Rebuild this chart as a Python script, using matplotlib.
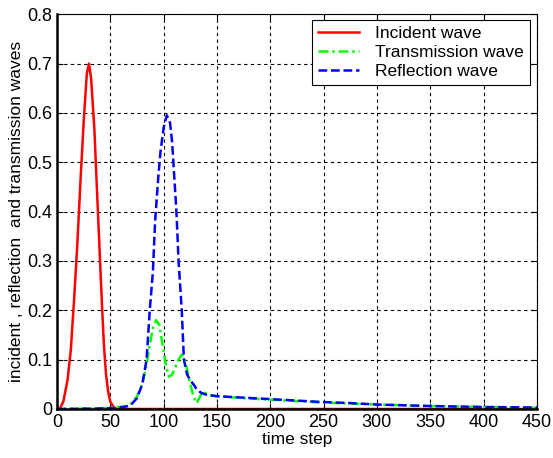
import matplotlib.pyplot as plt

plt.rcParams['font.family'] = ['Liberation Sans', 'DejaVu Sans']

# incident wave
t_inc = [0, 3, 6, 10, 13, 16, 19, 22, 25, 28, 30, 32, 35, 38, 40, 42, 44, 46, 48, 50, 53, 56, 60, 450]
v_inc = [0, 0.002, 0.015, 0.06, 0.12, 0.22, 0.33, 0.46, 0.58, 0.68, 0.70, 0.67, 0.57, 0.42, 0.32,
         0.22, 0.13, 0.07, 0.035, 0.015, 0.004, 0.0, 0.0, 0.0]

# transmission wave
t_tra = [0, 40, 55, 65, 70, 75, 80, 84, 87, 90, 93, 96, 99, 102, 105, 108, 111, 114, 117, 119,
         122, 125, 128, 131, 134, 137, 141, 145, 150, 175, 200, 225, 250, 275, 300, 350, 400, 450]
v_tra = [0, 0.001, 0.003, 0.006, 0.012, 0.025, 0.05, 0.09, 0.13, 0.165, 0.18, 0.17, 0.13, 0.09,
         0.065, 0.07, 0.085, 0.1, 0.11, 0.108, 0.08, 0.05, 0.025, 0.012, 0.025, 0.035, 0.03,
         0.027, 0.026, 0.022, 0.019, 0.016, 0.013, 0.011, 0.009, 0.006, 0.004, 0.002]

# reflection wave
t_ref = [0, 40, 55, 65, 70, 75, 80, 84, 87, 90, 92, 95, 97, 100, 103, 106, 108, 110, 112, 114,
         117, 119, 122, 125, 128, 131, 135, 140, 150, 175, 200, 225, 250, 275, 300, 350, 400, 450]
v_ref = [0, 0.001, 0.002, 0.005, 0.01, 0.022, 0.05, 0.1, 0.2, 0.28, 0.38, 0.47, 0.52, 0.57, 0.595,
         0.58, 0.54, 0.47, 0.4, 0.3, 0.2, 0.1, 0.07, 0.058, 0.05, 0.04, 0.033, 0.029, 0.026, 0.023,
         0.02, 0.017, 0.014, 0.012, 0.009, 0.006, 0.004, 0.003]

fig = plt.figure(figsize=(5.53, 4.58), dpi=100)
ax = fig.add_axes([0.103, 0.107, 0.868, 0.862])

ax.plot(t_inc, v_inc, color='red', lw=1.8, linestyle='-', label='Incident wave')
ax.plot(t_tra, v_tra, color='#00ff00', lw=1.8, linestyle=(0, (4, 1.5, 1, 1.5)), label='Transmission wave')
ax.plot(t_ref, v_ref, color='blue', lw=1.8, linestyle=(0, (3.5, 1.5)), label='Reflection wave')

ax.set_xlim(0, 450)
ax.set_ylim(0, 0.8)
ax.set_xticks(range(0, 451, 50))
ax.set_yticks([0, 0.1, 0.2, 0.3, 0.4, 0.5, 0.6, 0.7, 0.8])
ax.set_yticklabels(['0', '0.1', '0.2', '0.3', '0.4', '0.5', '0.6', '0.7', '0.8'])
ax.grid(True, color='black', linestyle=(0, (3, 3)), lw=0.8)
ax.tick_params(direction='in', top=True, right=True, labelsize=13, length=4)
for s in ax.spines.values():
    s.set_linewidth(0.8)
ax.spines['left'].set_linewidth(1.8)
ax.spines['bottom'].set_linewidth(1.8)

ax.set_xlabel('time step', fontsize=12.5, labelpad=1)
ax.set_ylabel('incident , reflection  and transmission waves', fontsize=12.5, labelpad=2)

leg = ax.legend(loc='upper right', bbox_to_anchor=(0.985, 0.985), fontsize=12.5, fancybox=False,
                edgecolor='black', framealpha=1, handlelength=2.4, borderpad=0.35,
                labelspacing=0.2, handletextpad=0.9, borderaxespad=0)
leg.get_frame().set_linewidth(0.8)

fig.savefig('out.png', dpi=100)
